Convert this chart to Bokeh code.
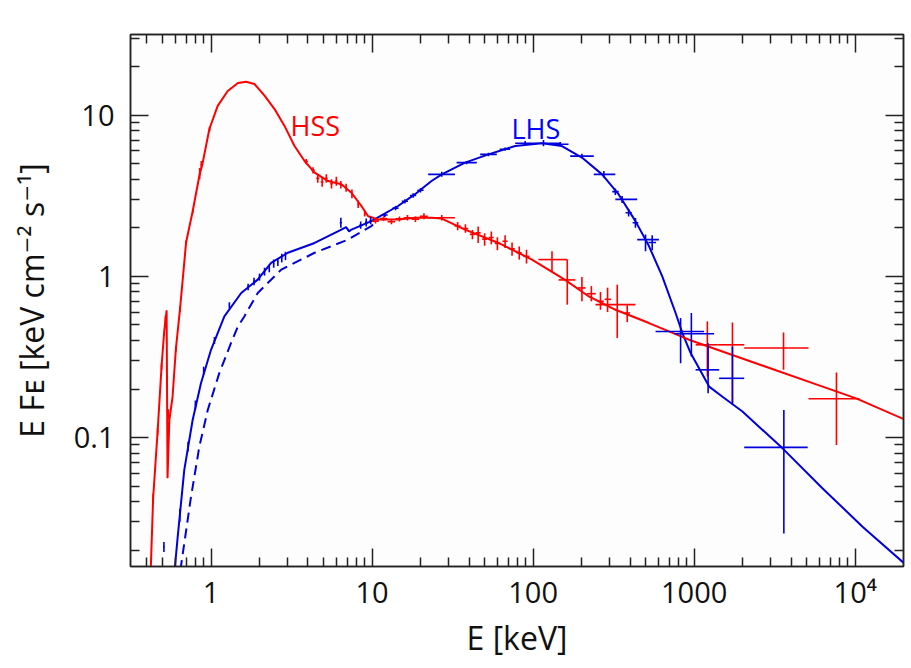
import math
from bokeh.plotting import figure
from bokeh.models import (ColumnDataSource, Range1d, FixedTicker, LogAxis, Label,
                          CustomJSTickFormatter)
from bokeh.embed import file_html
from bokeh.resources import INLINE

# ---------------- data ----------------
# HSS model curve (red)
hss_model_e = [0.415, 0.423, 0.437, 0.466, 0.493, 0.512, 0.530, 0.537, 0.551, 0.577, 0.605,
               0.641, 0.667, 0.70, 0.77, 0.846, 0.888, 0.976, 1.10, 1.27, 1.47, 1.65, 1.86,
               2.15, 2.48, 2.86, 3.30, 3.81, 4.40, 5.33, 6.45, 7.45, 8.59, 9.46, 10.9, 14.5,
               18.4, 23.4, 27.1, 37.8, 61, 98.4, 158, 222, 325, 524, 851, 929, 2415, 6280,
               10140, 20750]
hss_model_f = [0.010, 0.0158, 0.042, 0.109, 0.276, 0.455, 0.615, 0.056, 0.128, 0.179, 0.355,
               0.62, 0.95, 1.62, 2.54, 4.19, 5.07, 8.17, 11.4, 14.1, 15.8, 16.1, 15.6,
               13.2, 10.9, 8.57, 6.43, 5.19, 4.40, 3.90, 3.72, 3.30, 2.73, 2.36, 2.25, 2.25,
               2.31, 2.31, 2.28, 1.95, 1.61, 1.27, 0.95, 0.75, 0.62, 0.513, 0.42, 0.404, 0.289,
               0.207, 0.175, 0.128]

# LHS model curve (blue, solid)
lhs_model_e = [0.597, 0.621, 0.682, 0.769, 0.866, 1.0, 1.21, 1.54, 1.95, 2.36, 3.0, 4.40,
               6.45, 6.9, 7.2, 7.45, 9.9, 14.5, 18.4, 23.4, 27.1, 37.8, 52.8, 77.4, 113.5,
               151, 201, 268, 340, 432, 524, 634, 767, 845, 951, 1239, 1500, 1995, 3540,
               6280, 11150, 20270]
lhs_model_f = [0.0158, 0.0242, 0.0628, 0.1285, 0.217, 0.35, 0.564, 0.788, 0.954, 1.21, 1.40,
               1.61, 1.95, 2.02, 1.90, 1.95, 2.20, 2.73, 3.22, 3.90, 4.29, 5.07, 5.71, 6.43,
               6.69, 6.43, 5.45, 4.29, 3.22, 2.20, 1.54, 1.0, 0.592, 0.445, 0.334, 0.207,
               0.179, 0.145, 0.0857, 0.0483, 0.0279, 0.0165]

# LHS second model component (blue, dashed)
lhs_dash_e = [0.63, 0.65, 0.751, 0.846, 0.954, 1.126, 1.33, 1.47, 1.61, 1.95, 2.73, 4.40,
              7.1, 9.9, 10.9]
lhs_dash_f = [0.012, 0.0158, 0.0428, 0.0877, 0.148, 0.251, 0.385, 0.489, 0.564, 0.788, 1.10,
              1.40, 1.69, 2.05, 2.25]

# HSS data points with error bars
hss_e = [0.437, 0.466, 0.493, 0.521, 0.544, 0.605, 0.641, 0.70, 0.77, 0.85, 0.87, 0.98,
         3.9, 4.3, 4.6, 4.9, 5.2, 5.6, 6.0, 6.4, 6.9, 7.5, 8.2, 9.0,
         10.5, 11.8, 13.2, 14.8, 16.6, 18.6, 21, 27.1,
         34, 38, 42, 45.6, 50, 55, 60, 67, 74, 82, 91,
         131, 163, 201, 230, 262, 290, 333, 384,
         1208, 1729, 3590, 7650]
hss_e_lo = [0.432, 0.461, 0.488, 0.517, 0.540, 0.598, 0.634, 0.693, 0.762, 0.84, 0.86, 0.97,
            3.8, 4.2, 4.5, 4.8, 5.1, 5.5, 5.9, 6.3, 6.8, 7.4, 8.1, 8.9,
            10.0, 11.2, 12.5, 14.0, 15.7, 17.6, 19.8, 22.3,
            32.5, 36.5, 40.5, 44, 48.3, 53, 58, 64.5, 71, 79, 87,
            108, 144, 190, 215, 250, 278, 244, 370,
            1021, 1393, 2046, 5130]
hss_e_hi = [0.442, 0.471, 0.498, 0.525, 0.548, 0.612, 0.648, 0.707, 0.778, 0.86, 0.88, 0.99,
            4.0, 4.4, 4.7, 5.0, 5.3, 5.7, 6.1, 6.5, 7.0, 7.6, 8.3, 9.1,
            11.0, 12.4, 13.9, 15.6, 17.5, 19.6, 22.2, 32.7,
            35.5, 39.5, 43.5, 47.2, 51.7, 57, 62, 69.5, 77, 85, 95,
            163, 183, 212, 245, 275, 305, 432, 400,
            1393, 2046, 5130, 10640]
hss_f = [0.042, 0.109, 0.276, 0.53, 0.14, 0.355, 0.62, 1.62, 2.54, 4.3, 4.9, 8.2,
         5.15, 4.55, 4.05, 3.85, 4.05, 3.75, 3.9, 3.7, 3.55, 3.25, 2.8, 2.45,
         2.20, 2.28, 2.18, 2.27, 2.31, 2.26, 2.36, 2.31,
         2.05, 1.98, 1.82, 1.86, 1.70, 1.74, 1.60, 1.65, 1.48, 1.40, 1.33,
         1.27, 0.95, 0.847, 0.78, 0.70, 0.72, 0.667, 0.592,
         0.376, 0.376, 0.359, 0.174]
hss_f_lo = [0.039, 0.103, 0.262, 0.50, 0.13, 0.34, 0.60, 1.57, 2.45, 4.0, 4.6, 7.9,
            4.95, 4.35, 3.8, 3.6, 3.8, 3.5, 3.65, 3.5, 3.35, 3.05, 2.65, 2.35,
            2.13, 2.20, 2.10, 2.19, 2.22, 2.17, 2.26, 2.22,
            1.93, 1.86, 1.70, 1.61, 1.55, 1.58, 1.45, 1.50, 1.34, 1.27, 1.20,
            1.08, 0.667, 0.70, 0.70, 0.62, 0.60, 0.414, 0.52,
            0.239, 0.163, 0.263, 0.0898]
hss_f_hi = [0.045, 0.115, 0.290, 0.57, 0.15, 0.37, 0.65, 1.67, 2.62, 4.7, 5.2, 8.5,
            5.35, 4.75, 4.3, 4.1, 4.3, 4.0, 4.15, 3.9, 3.75, 3.45, 2.95, 2.55,
            2.27, 2.36, 2.26, 2.35, 2.40, 2.35, 2.46, 2.40,
            2.17, 2.10, 1.94, 2.04, 1.85, 1.90, 1.75, 1.80, 1.62, 1.53, 1.46,
            1.43, 1.27, 0.99, 0.87, 0.80, 0.85, 0.888, 0.66,
            0.525, 0.517, 0.449, 0.253]

# LHS data points with error bars
lhs_e = [0.51, 0.64, 0.72, 0.80, 0.90, 1.05, 1.3,
         1.7, 1.85, 2.0, 2.15, 2.3, 2.45, 2.6, 2.75, 2.9,
         6.4, 8.5, 9.2, 9.8,
         12, 14, 16, 18, 20,
         27.1, 38.7, 52.8, 67, 89.3, 116, 147.5, 201, 275, 324, 357, 392, 432, 499, 549,
         824, 961, 1221, 1729, 3606]
lhs_e_lo = [0.505, 0.635, 0.714, 0.793, 0.892, 1.04, 1.29,
            1.68, 1.83, 1.98, 2.13, 2.28, 2.43, 2.58, 2.73, 2.88,
            6.3, 8.35, 9.05, 9.65,
            11.5, 13.4, 15.3, 17.2, 19.1,
            22.3, 33.5, 46.9, 62, 77.4, 113.5, 131, 170, 238, 310, 324, 375, 415, 443, 520,
            576, 753, 1021, 1430, 2046]
lhs_e_hi = [0.515, 0.645, 0.726, 0.807, 0.908, 1.06, 1.31,
            1.72, 1.87, 2.02, 2.17, 2.32, 2.47, 2.62, 2.77, 2.92,
            6.5, 8.65, 9.35, 9.95,
            12.5, 14.6, 16.7, 18.8, 20.9,
            32.7, 44.7, 59.5, 72, 113.5, 147.5, 166, 238, 324, 340, 443, 410, 450, 604, 580,
            1153, 1330, 1430, 2046, 5070]
lhs_f = [0.021, 0.033, 0.088, 0.16, 0.26, 0.40, 0.66,
         0.86, 0.93, 0.99, 1.07, 1.12, 1.20, 1.23, 1.30, 1.34,
         2.15, 2.08, 2.16, 2.22,
         2.40, 2.65, 2.92, 3.17, 3.42,
         4.29, 5.07, 5.71, 6.14, 6.69, 6.69, 6.6, 5.57, 4.29, 3.35, 3.0, 2.48, 2.15, 1.69, 1.62,
         0.455, 0.44, 0.263, 0.233, 0.0869]
lhs_f_lo = [0.0195, 0.030, 0.082, 0.15, 0.245, 0.38, 0.63,
            0.82, 0.88, 0.94, 1.01, 1.06, 1.13, 1.16, 1.22, 1.26,
            2.0, 1.97, 2.04, 2.10,
            2.33, 2.57, 2.83, 3.07, 3.31,
            4.15, 4.95, 5.55, 6.0, 6.5, 6.4, 6.4, 5.4, 4.1, 3.2, 2.85, 2.35, 2.0, 1.43, 1.45,
            0.289, 0.318, 0.188, 0.159, 0.0254]
lhs_f_hi = [0.0225, 0.036, 0.094, 0.17, 0.275, 0.42, 0.69,
            0.90, 0.98, 1.04, 1.13, 1.18, 1.27, 1.30, 1.38, 1.42,
            2.31, 2.19, 2.28, 2.34,
            2.47, 2.73, 3.01, 3.27, 3.53,
            4.45, 5.20, 5.85, 6.3, 6.9, 7.0, 6.8, 5.75, 4.5, 3.5, 3.15, 2.62, 2.3, 1.82, 1.80,
            0.551, 0.592, 0.385, 0.367, 0.148]

x_ticks = [1, 10, 100, 1000, 10000]
x_tick_labels = ["1", "10", "100", "1000", "10\u2074"]
y_ticks = [0.1, 1, 10]
y_tick_labels = ["0.1", "1", "10"]

# ---------------- layout ----------------
RED = "#ff0000"
BLUE = "#0000dd"
FONT = "Open Sans"
FONT_FB = "Open Sans, DejaVu Sans"
X0, X1 = 10 ** -0.5, 10 ** 4.3
Y0, Y1 = 10 ** -1.8, 10 ** 1.5
FRAME_L, FRAME_T, FRAME_W, FRAME_H = 130, 34, 773, 532


def px_to_x(px):
    return 10 ** (-0.5 + (px - FRAME_L) / FRAME_W * 4.8)


def py_to_y(py):
    return 10 ** (1.5 - (py - FRAME_T) / FRAME_H * 3.3)


p = figure(frame_width=FRAME_W, frame_height=FRAME_H,
           x_axis_type="log", y_axis_type="log",
           x_range=Range1d(X0, X1), y_range=Range1d(Y0, Y1),
           output_backend="svg", toolbar_location=None,
           min_border_left=FRAME_L, min_border_top=FRAME_T,
           min_border_right=5, min_border_bottom=90)
p.background_fill_color = "#fdfdfd"
p.border_fill_color = "white"
p.grid.visible = False
p.outline_line_color = "#222222"
p.outline_line_width = 1.5

bottom = p.below[0]
left = p.left[0]


def minor(lo, hi):
    out = []
    for d in range(-3, 6):
        for k in range(2, 10):
            v = k * 10 ** d
            if lo <= v <= hi:
                out.append(v)
    return out


xt = FixedTicker(ticks=x_ticks, minor_ticks=minor(X0, X1))
yt = FixedTicker(ticks=y_ticks, minor_ticks=minor(Y0, Y1))
lookup = "for (let i=0;i<t.length;i++){ if (Math.abs(t[i]-tick) <= 1e-6*t[i]) return l[i]; } return '';"
fx = CustomJSTickFormatter(args=dict(t=x_ticks, l=x_tick_labels), code=lookup)
fy = CustomJSTickFormatter(args=dict(t=y_ticks, l=y_tick_labels), code=lookup)

top = LogAxis(ticker=xt)
right = LogAxis(ticker=yt)
p.add_layout(top, "above")
p.add_layout(right, "right")

for ax in [bottom, left, top, right]:
    ax.major_tick_in = 18
    ax.major_tick_out = 0
    ax.minor_tick_in = 9
    ax.minor_tick_out = 0
    ax.axis_line_color = "#222222"
    ax.axis_line_width = 1.5
    ax.major_tick_line_color = "#222222"
    ax.minor_tick_line_color = "#222222"
    ax.major_tick_line_width = 1.5
    ax.minor_tick_line_width = 1.5

bottom.ticker = xt
left.ticker = yt
bottom.formatter = fx
left.formatter = fy
for ax in [top, right]:
    ax.major_label_text_font_size = "0px"
    ax.major_label_standoff = 0
    ax.formatter = CustomJSTickFormatter(code="return '';")

for ax in [bottom, left]:
    ax.major_label_text_font = FONT_FB
    ax.major_label_text_font_size = "29px"
    ax.major_label_text_color = "#111111"
    ax.axis_label_text_font = FONT_FB
    ax.axis_label_text_font_size = "32px"
    ax.axis_label_text_font_style = "normal"
    ax.axis_label_text_color = "#111111"
bottom.major_label_standoff = 5
left.major_label_standoff = 16
bottom.axis_label = "E [keV]"
bottom.axis_label_standoff = 2
left.axis_label = "E F\u1d07 [keV cm\u207b\u00b2 s\u207b\u00b9]"
left.axis_label_standoff = 18

# ---------------- marks ----------------
p.line(lhs_dash_e, lhs_dash_f, line_color=BLUE, line_width=2, line_dash="10 6")
p.line(lhs_model_e, lhs_model_f, line_color=BLUE, line_width=2)
p.line(hss_model_e, hss_model_f, line_color=RED, line_width=2)

for e, elo, ehi, f, flo, fhi, col in [
        (hss_e, hss_e_lo, hss_e_hi, hss_f, hss_f_lo, hss_f_hi, RED),
        (lhs_e, lhs_e_lo, lhs_e_hi, lhs_f, lhs_f_lo, lhs_f_hi, BLUE)]:
    src = ColumnDataSource(dict(e=e, elo=elo, ehi=ehi, f=f, flo=flo, fhi=fhi))
    p.segment(x0="elo", x1="ehi", y0="f", y1="f", source=src, line_color=col, line_width=1.6)
    p.segment(x0="e", x1="e", y0="flo", y1="fhi", source=src, line_color=col, line_width=1.6)

# curve names
p.add_layout(Label(x=px_to_x(290), y=py_to_y(125), text="HSS", text_color=RED,
                   text_font=FONT, text_font_size="27px", text_baseline="alphabetic"))
p.add_layout(Label(x=px_to_x(511), y=py_to_y(128), text="LHS", text_color="#0000ff",
                   text_font=FONT, text_font_size="27px", text_baseline="alphabetic"))

open("out.html", "w").write(file_html(p, INLINE))
